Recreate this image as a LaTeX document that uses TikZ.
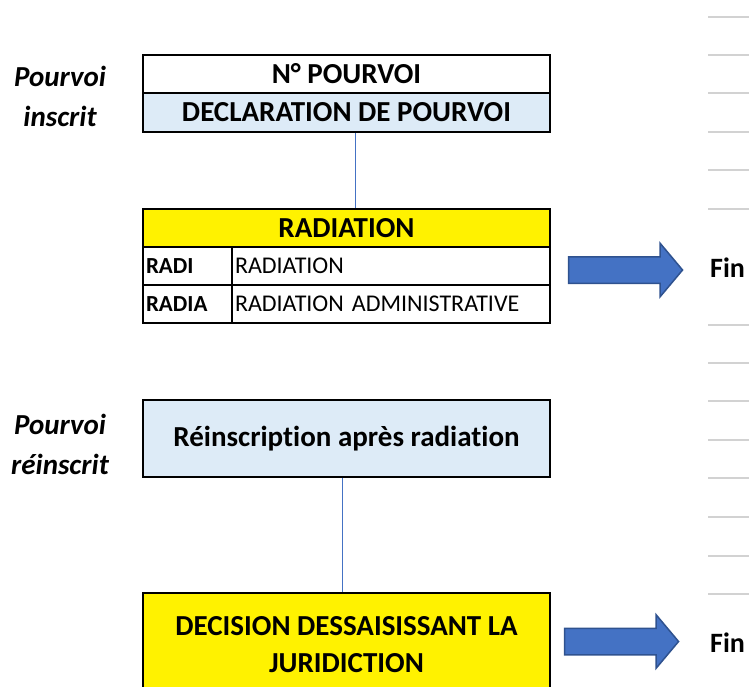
\documentclass[tikz,border=0pt]{standalone}
\usepackage{fontspec}
\setmainfont{Carlito}[RawFeature=-liga]
\usetikzlibrary{shapes.arrows}
\definecolor{paleblue}{HTML}{DDEBF7}
\definecolor{arrowblue}{HTML}{4472C4}
\definecolor{arrowedge}{HTML}{2F528F}
\definecolor{linkblue}{HTML}{4472C4}

\begin{document}
\begin{tikzpicture}[x=1pt, y=-1pt,
		cell/.style={draw=black, line width=1.6pt, inner sep=0pt, font=\fontsize{29}{37}\selectfont\bfseries},
		rowcell/.style={draw=black, line width=1.6pt, inner sep=0pt, minimum height=38pt, align=left, font=\fontsize{24}{28}\selectfont},
		side/.style={align=center, font=\fontsize{29}{40}\selectfont\bfseries\itshape},
		link/.style={draw=linkblue, line width=0.8pt},
		bigarrow/.style={single arrow, fill=arrowblue, draw=arrowedge, line width=1.5pt, minimum height=114pt, inner xsep=0pt, inner ysep=12.5pt, single arrow head extend=13.5pt, single arrow tip angle=100},
		endlabel/.style={font=\fontsize{28}{32}\selectfont\bfseries, anchor=west, inner sep=0pt}]
		\useasboundingbox (0,0) rectangle (749,686);
		% grid lines of the sheet
		\foreach \y in {17,55,93,132,170,209,325,363,401,440,478,517,556,594}
		\draw[gray!35, line width=1.5pt] (708,\y) -- (749,\y);
		% first block
		\node[side] (inscrit) at (60,96) {Pourvoi\\inscrit};
		\node[cell, minimum width=407pt, minimum height=38pt] (numero) at (346.5,74) {N° POURVOI};
		\node[cell, fill=paleblue, minimum width=407pt, minimum height=39pt] (decl) at (346.5,112.5) {DECLARATION DE POURVOI};
		\node[cell, fill=yellow, minimum width=407pt, minimum height=38pt] (radhead) at (346.5,228) {RADIATION};
		\node[rowcell, minimum width=89pt, font=\fontsize{23}{28}\selectfont\bfseries, text width=83pt] (radi) at (187.5,266) {RADI};
		\node[rowcell, minimum width=318pt, text width=312pt] (raditext) at (391,266) {RADIATION};
		\node[rowcell, minimum width=89pt, font=\fontsize{23}{28}\selectfont\bfseries, text width=83pt] (radia) at (187.5,304) {RADIA};
		\node[rowcell, minimum width=318pt, text width=312pt] (radiatext) at (391,304) {RADIATION ADMINISTRATIVE};
		\draw[link] ([xshift=8.5pt]decl.south) -- ([xshift=8.5pt]radhead.north);
		\node[bigarrow] (arrowone) at (620,270) {};
		\node[endlabel] (finone) at (710,268) {Fin};
		% second block
		\node[side] (reinscrit) at (60,444) {Pourvoi\\réinscrit};
		\node[cell, fill=paleblue, minimum width=407pt, minimum height=77pt] (reinscr) at (346.5,438.5) {Réinscription après radiation};
		\node[cell, fill=yellow, minimum width=407pt, minimum height=104pt, align=center] (decision) at (346.5,645) {DECISION DESSAISISSANT LA\\JURIDICTION};
		\draw[link] ([xshift=-4.5pt]reinscr.south) -- ([xshift=-4.5pt]decision.north);
		\node[bigarrow] (arrowtwo) at (616,641.5) {};
		\node[endlabel] (fintwo) at (710,643) {Fin};
	\end{tikzpicture}
\end{document}
